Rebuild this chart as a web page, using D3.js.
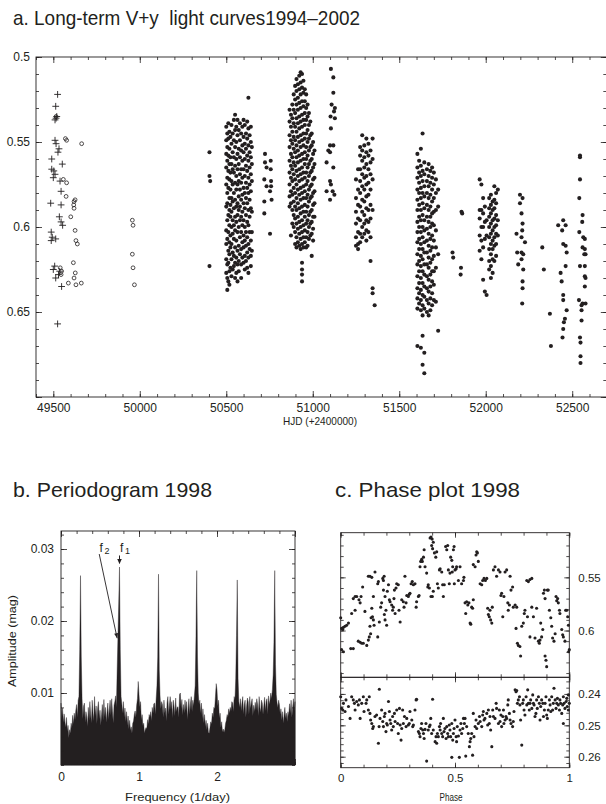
<!DOCTYPE html>
<html>
<head>
<meta charset="utf-8">
<script src="https://cdn.jsdelivr.net/npm/d3@7"></script>
<style>
  body { margin: 0; background: #fff; }
  svg { display: block; }
  text { font-family: "Liberation Sans", Arial, sans-serif; fill: #231f20; }
  .title { font-size: 21px; white-space: pre; }
</style>
</head>
<body>
<svg id="chart" width="606" height="804"></svg>
<script>
// ---------- panel a: long-term V+y light curves ----------
const hjdTicks = [49500, 50000, 50500, 51000, 51500, 52000, 52500];
const hjdLabels = ["49500", "50000", "50500", "51000", "51500", "52000", "52500"];
const magTicksA = [0.5, 0.55, 0.6, 0.65, 0.7];
const magLabelsA = ["0.5", "0.55", "0.6", "0.65", ""];

// 1994/95 season, plotted as crosses  [HJD-2400000, mag]
const crosses1994 = [[49525,.522],[49514,.529],[49516,.536],[49510,.537],[49520,.535],[49510,.549],[49516,.551],
  [49533,.554],[49527,.556],[49491,.560],[49552,.563],[49491,.566],[49503,.567],[49510,.569],[49500,.571],
  [49539,.573],[49545,.579],[49485,.586],[49545,.587],[49535,.594],[49545,.597],[49554,.599],[49488,.603],
  [49494,.606],[49514,.607],[49488,.608],[49508,.623],[49500,.625],[49537,.626],[49530,.628],[49514,.630],
  [49548,.635],[49525,.657]];

// 1994/95 season, second instrument, open circles
const circles1995 = [[49516,.535],[49570,.548],[49577,.549],[49664,.551],[49558,.572],[49577,.574],[49574,.582],
  [49620,.585],[49626,.584],[49618,.587],[49620,.589],[49601,.594],[49626,.602],[49631,.608],[49639,.610],
  [49616,.621],[49627,.627],[49620,.630],[49587,.633],[49631,.634],[49662,.633],[49540,.624],[49548,.626],
  [49545,.628],[49957,.596],[49961,.599],[49957,.616],[49961,.624],[49969,.634]];

// filled dots, 1996-2002; dense seasons stored as [night, [mags]]
const season1996 = [[50403,.556],[50403,.570],[50407,.573],[50403,.623]];
const season1997 = [
  [50500,[.541,.549,.557,.565,.575,.588,.602,.610,.619,.627]],
  [50506,[.545,.553,.561,.571,.580,.586,.596,.607,.622,.630,.637]],
  [50512,[.539,.548,.558,.567,.577,.593,.603,.614,.621,.632]],
  [50518,[.544,.554,.563,.572,.583,.590,.599,.609,.616,.626,.634]],
  [50524,[.547,.559,.568,.578,.587,.594,.605,.612,.624]],
  [50530,[.540,.551,.563,.573,.583,.591,.600,.610,.619,.629]],
  [50537,[.545,.556,.566,.575,.585,.596,.604,.615,.625]],
  [50544,[.537,.549,.559,.568,.580,.589,.599,.607,.617,.623]],
  [50551,[.534,.543,.553,.564,.574,.584,.594,.602,.612,.621,.630]],
  [50558,[.541,.550,.560,.570,.578,.588,.597,.608,.618,.627]],
  [50565,[.537,.546,.557,.566,.575,.586,.593,.603,.614,.622,.632]],
  [50572,[.543,.554,.563,.573,.582,.590,.600,.611,.620,.626]],
  [50579,[.539,.549,.559,.569,.578,.588,.596,.606,.616]],
  [50586,[.545,.555,.566,.574,.584,.594,.603,.613,.622,.630]],
  [50593,[.541,.552,.561,.571,.581,.591,.599,.609,.618]],
  [50600,[.537,.547,.556,.566,.577,.586,.596,.605,.612,.621]],
  [50607,[.540,.551,.560,.570,.580,.589,.600,.608,.617,.625]],
  [50614,[.545,.554,.564,.574,.583,.593,.603,.611,.620]],
  [50621,[.538,.548,.558,.567,.577,.586,.597,.606,.615,.624]],
  [50628,[.524,.542,.552,.561,.571,.580,.590,.599,.610,.618,.627]],
  [50635,[.546,.556,.565,.575,.584,.594,.603,.613]],
  [50642,[.541,.550,.559,.569,.579,.589,.608,.617,.623]],
  [50648,[.553,.563,.573,.591,.603,.614]]];
const season1997b = [[50724,.557],[50757,.561],[50724,.562],[50733,.565],[50757,.566],[50720,.572],[50759,.573],
  [50733,.576],[50759,.576],[50753,.579],[50720,.585],[50762,.584],[50720,.592],[50753,.604]];
const season1998 = [
  [50866,[.531,.538,.546,.553,.561,.568,.575,.582,.588]],
  [50874,[.534,.541,.549,.557,.564,.571,.579,.586,.605]],
  [50882,[.528,.536,.544,.551,.559,.566,.573,.581,.590,.598]],
  [50890,[.522,.531,.539,.547,.554,.562,.569,.577,.585,.593,.600]],
  [50898,[.517,.525,.533,.541,.549,.556,.564,.572,.580,.588,.595,.603,.610]],
  [50906,[.513,.520,.528,.536,.544,.552,.559,.567,.575,.583,.590,.598,.606,.612]],
  [50914,[.516,.524,.531,.539,.547,.555,.562,.570,.578,.586,.594,.601,.609]],
  [50922,[.511,.519,.527,.535,.542,.550,.558,.566,.573,.581,.589,.597,.604,.611]],
  [50930,[.509,.515,.522,.530,.538,.546,.553,.561,.569,.577,.584,.592,.600,.607,.613]],
  [50938,[.510,.518,.526,.534,.541,.549,.557,.565,.572,.580,.588,.596,.603,.610,.621,.625,.628,.632]],
  [50946,[.514,.521,.529,.537,.545,.552,.560,.568,.576,.583,.591,.599,.606,.612]],
  [50954,[.519,.526,.533,.540,.548,.556,.563,.571,.579,.587,.594,.602,.609]],
  [50962,[.522,.530,.537,.545,.553,.560,.568,.575,.583,.591,.598,.606,.612]],
  [50970,[.528,.535,.543,.550,.558,.565,.573,.581,.588,.596,.603,.611]],
  [50978,[.533,.540,.548,.555,.563,.570,.578,.585,.593,.600,.607]],
  [50986,[.538,.546,.553,.561,.568,.576,.583,.591,.598,.605]],
  [50994,[.545,.552,.560,.567,.575,.582,.590,.597,.604,.617]],
  [51002,[.550,.557,.565,.572,.580,.587,.594,.601,.608]],
  [51010,[.555,.563,.571,.579,.586,.594]]];
const season1998b = [[51105,.507],[51119,.512],[51119,.521],[51109,.528],[51128,.530],[51123,.532],[51103,.535],
  [51128,.536],[51105,.542],[51100,.552],[51119,.552],[51090,.555],[51100,.556],[51080,.562],[51119,.565],
  [51100,.573],[51105,.575],[51080,.579],[51125,.581],[51115,.579],[51100,.584]];
const season1999 = [
  [51250,[.572,.583,.591,.598,.606,.611]],
  [51262,[.566,.578,.587,.595,.603,.610,.613]],
  [51274,[.553,.558,.566,.573,.580,.588,.596,.604,.609]],
  [51286,[.546,.555,.561,.569,.576,.584,.591,.600,.606]],
  [51298,[.552,.559,.565,.571,.578,.585,.593,.598,.604]],
  [51310,[.548,.556,.563,.570,.575,.582,.589,.596,.602,.608]],
  [51322,[.551,.558,.566,.574,.581,.590,.597,.603]],
  [51334,[.555,.562,.569,.578,.587,.595,.606,.620]],
  [51346,[.548,.560,.572,.590,.636,.639]],
  [51358,[.646]]];
const season2000 = [
  [51605,[.557,.565,.571,.578,.584,.590,.597,.603,.609,.616,.622,.629,.636,.642,.648,.670]],
  [51615,[.561,.568,.574,.580,.587,.594,.600,.607,.613,.620,.626,.633,.639,.645]],
  [51625,[.554,.564,.570,.577,.583,.590,.596,.603,.610,.617,.623,.630,.637,.643,.649,.671]],
  [51635,[.545,.567,.573,.580,.586,.593,.600,.606,.613,.619,.626,.633,.640,.646,.652,.664,.681]],
  [51645,[.562,.569,.576,.582,.589,.596,.602,.609,.615,.622,.628,.635,.641,.648,.674,.686]],
  [51660,[.566,.573,.580,.587,.594,.601,.608,.615,.622,.629,.636,.643,.650]],
  [51670,[.563,.570,.576,.583,.590,.597,.604,.611,.618,.624,.631,.638,.645,.652]],
  [51680,[.567,.574,.581,.588,.594,.600,.607,.614,.621,.628,.635,.642,.649]],
  [51690,[.565,.571,.578,.585,.592,.598,.605,.612,.619,.626,.632,.639,.646]],
  [51700,[.568,.575,.583,.591,.599,.608,.617,.626,.634,.643]],
  [51712,[.572,.580,.590,.602,.612,.624,.644]],
  [51725,[.578,.588,.616,.661]]];
const season2000b = [[51808,.615],[51812,.618],[51860,.591],[51864,.592],[51857,.624],[51855,.628]];
const season2001 = [
  [51965,[.572,.590,.595,.605,.614]],
  [51975,[.575,.590,.600,.608,.619]],
  [51985,[.583,.592,.600,.612,.631]],
  [51995,[.588,.597,.607,.638]],
  [52005,[.596,.605,.640]],
  [52020,[.583,.589,.594,.600,.606,.613,.620,.625]],
  [52030,[.581,.587,.592,.598,.604,.610,.616,.623,.630]],
  [52040,[.585,.590,.596,.602,.608,.613,.619,.627]],
  [52050,[.576,.584,.589,.595,.600,.606,.611,.620]],
  [52060,[.580,.586,.593,.599,.604,.610,.617]],
  [52070,[.578,.596,.605]]];
const season2001b = [[52198,.581],[52213,.583],[52198,.586],[52207,.592],[52213,.598],[52211,.602],[52178,.604],
  [52207,.606],[52227,.609],[52182,.615],[52207,.615],[52217,.616],[52207,.619],[52188,.622],[52217,.625],
  [52213,.632],[52213,.636],[52211,.645]];
const season2002a = [[52327,.612],[52336,.625],[52371,.651],[52377,.670]];
const season2002b = [[52419,.599],[52448,.596],[52462,.599],[52442,.602],[52448,.610],[52462,.611],[52468,.615],
  [52462,.623],[52433,.627],[52439,.632],[52448,.640],[52448,.643],[52468,.649],[52458,.654],[52452,.656],
  [52448,.660],[52444,.665]];
const season2002c = [[52545,.558],[52545,.559],[52545,.572],[52541,.583],[52560,.593],[52558,.597],[52541,.603],
  [52564,.606],[52573,.607],[52560,.612],[52573,.613],[52577,.616],[52570,.616],[52545,.623],[52573,.623],
  [52573,.629],[52577,.630],[52573,.635],[52539,.643],[52560,.645],[52554,.646],[52577,.645],[52554,.649],
  [52554,.655],[52545,.665],[52548,.668],[52548,.676],[52548,.680]];

// ---------- panel b: periodogram 1998 ----------
const freqTicks = [0, 1, 2, 3];
const freqLabels = ["0", "1", "2", ""];
const ampTicks = [0.01, 0.02, 0.03];
const ampLabels = ["0.01", "0.02", "0.03"];
// amplitude in units of 1e-4 mag, one value per 0.01 c/d from 0 to 3
const ampE4 = [
  86,64,79,58,71,60,52,66,47,55, 38,49,44,58,51,69,57,72,63,76, 84,66,90,95,160,263,150,92,64,82,
  86,59,74,67,53,80,62,88,70,58, 90,73,61,95,68,82,57,79,88,64, 76,55,70,84,62,91,67,80,59,73,
  86,63,78,90,69,92,74,58,83,88, 96,80,132,178,225,275,160,95,85,72, 88,66,79,60,74,55,68,50,62,48,
  53,44,58,61,70,75,66,83,92,116, 98,81,88,62,70,55,58,44,49,52, 50,63,57,70,66,74,61,80,72,85,
  86,70,92,110,150,265,132,96,78,88, 84,66,90,72,79,61,86,95,70,83, 95,77,88,65,90,81,68,93,74,80,
  81,66,98,100,78,91,69,84,72,90, 76,88,63,80,92,70,86,95,74,90, 82,96,110,175,270,150,100,84,90,72,
  86,64,78,58,70,53,62,49,58,45, 44,52,60,57,72,66,80,78,95,113, 104,82,90,65,72,52,60,46,50,45,
  49,58,62,70,66,78,72,80,75,88, 86,74,95,90,120,180,257,120,88,80, 92,75,86,95,70,84,90,66,82,93,
  88,70,95,78,86,92,68,83,74,87, 76,92,84,68,95,80,73,90,86,70, 82,94,75,88,92,70,96,84,90,100,
  92,105,125,170,270,140,98,86,80,90, 84,70,78,62,74,58,69,80,65,72, 60,74,68,85,72,90,66,80,92,75,
  88];

// ---------- panel c: phase plot 1998 ----------
const phaseTicks = [0, 0.5, 1];
const phaseLabels = ["0", "0.5", "1"];
const magTicksC = [0.55, 0.6];
const magLabelsC = ["0.55", "0.6"];
const colTicksC = [0.24, 0.25, 0.26];
const colLabelsC = ["0.24", "0.25", "0.26"];
// [phase, V+y mag]
const phaseMag = [[0,.588],[.004,.598],[.009,.599],[.012,.597],[.019,.596],[.026,.595],[.034,.593],[.004,.618],
  [.012,.620],[.044,.617],[.055,.617],[.048,.584],[.063,.581],[.055,.570],[.063,.568],[.070,.568],[.080,.571],
  [.085,.574],[.089,.568],[.077,.610],[.085,.611],[.092,.612],[.099,.612],[.096,.559],[.106,.582],
  [.114,.614],[.121,.609],[.125,.606],[.131,.603],[.128,.596],[.133,.588],[.139,.587],[.143,.590],[.146,.595],
  [.143,.568],[.136,.579],[.121,.549],[.128,.549],[.136,.550],[.150,.545],[.162,.556],[.165,.554],[.162,.606],
  [.169,.592],[.175,.578],[.179,.574],[.187,.553],[.184,.551],[.190,.549],[.187,.562],[.194,.568],[.198,.581],
  [.194,.590],[.201,.595],[.191,.585],
  [.204,.563],[.209,.557],[.213,.571],[.216,.573],[.223,.576],[.227,.581],[.230,.578],[.233,.570],[.235,.562],
  [.242,.560],[.245,.556],[.252,.557],[.238,.584],[.255,.581],[.260,.592],[.267,.571],[.274,.573],[.281,.549],
  [.277,.578],[.286,.574],[.289,.567],[.296,.568],[.300,.566],[.303,.565],
  [.308,.556],[.313,.554],[.318,.557],[.325,.556],[.330,.578],[.332,.573],[.340,.568],[.343,.567],[.347,.540],
  [.350,.535],[.354,.533],[.357,.535],[.362,.531],[.365,.524],[.369,.540],[.376,.546],[.381,.559],[.383,.557],
  [.388,.560],[.391,.513],[.395,.512],[.400,.514],[.405,.517],[.398,.520],[.402,.523],[.395,.568],[.401,.568],
  [.405,.563],
  [.410,.527],[.416,.531],[.420,.526],[.423,.556],[.427,.560],[.432,.543],[.435,.542],[.442,.545],[.446,.557],
  [.449,.568],[.453,.557],[.459,.521],[.464,.524],[.468,.520],[.471,.543],[.475,.556],[.478,.546],[.481,.531],
  [.486,.534],[.488,.545],[.490,.540],[.493,.524],[.496,.521],[.500,.543],[.497,.556],
  [.505,.542],[.507,.540],[.515,.553],[.522,.540],[.529,.556],[.537,.553],[.539,.550],[.544,.574],[.547,.584],
  [.551,.573],[.556,.576],[.561,.574],[.566,.593],[.569,.594],[.573,.578],[.577,.579],[.580,.571],[.580,.538],
  [.588,.540],[.592,.529],[.595,.526],[.598,.527],[.602,.535],
  [.610,.556],[.617,.557],[.621,.553],[.627,.551],[.633,.553],[.639,.551],[.643,.579],[.646,.585],[.650,.587],
  [.653,.581],[.656,.590],[.661,.593],[.663,.578],[.668,.543],[.675,.540],[.682,.549],[.690,.543],[.697,.545],
  [.701,.567],[.704,.565],
  [.709,.587],[.714,.568],[.719,.545],[.726,.543],[.731,.574],[.733,.581],[.738,.576],[.741,.549],[.745,.562],
  [.752,.559],[.755,.578],[.763,.576],[.770,.578],[.767,.598],[.773,.612],[.777,.614],[.784,.615],[.787,.624],
  [.792,.596],[.799,.593],[.803,.584],[.806,.581],
  [.814,.553],[.821,.554],[.828,.552],[.836,.551],[.817,.587],[.828,.606],[.836,.578],[.843,.587],[.850,.607],
  [.857,.579],[.865,.610],[.869,.612],[.872,.609],[.875,.593],[.879,.606],[.884,.599],[.887,.565],[.891,.562],
  [.894,.570],[.894,.624],[.898,.628],[.901,.634],
  [.904,.562],[.908,.562],[.913,.581],[.919,.588],[.923,.596],[.927,.607],[.933,.610],[.938,.603],[.942,.568],
  [.945,.572],[.949,.570],[.952,.574],[.957,.581],[.959,.584],[.967,.599],[.971,.604],[.974,.606],[.981,.610],
  [.984,.581],[.989,.581],[.993,.587],[.996,.595],[1,.618],[.997,.620]];
// [phase, colour index]
const phaseCol = [[0,.2409],[.004,.2446],[.009,.2451],[.012,.2430],[.019,.2456],[.023,.2419],[.034,.2440],
  [.041,.2478],[.048,.2409],[.055,.2419],[.060,.2430],[.063,.2451],[.070,.2424],[.077,.2435],[.082,.2419],
  [.085,.2478],[.092,.2430],[.099,.2409],[.102,.2456],[.111,.2430],
  [.114,.2419],[.121,.2451],[.125,.2409],[.128,.2462],[.131,.2483],[.136,.2494],[.140,.2510],[.143,.2504],
  [.150,.2472],[.157,.2467],[.165,.2557],[.168,.2504],[.169,.2385],[.172,.2478],[.179,.2451],[.184,.2488],
  [.187,.2504],[.191,.2472],[.194,.2462],[.198,.2520],[.201,.2494],[.204,.2499],
  [.209,.2424],[.213,.2456],[.216,.2483],[.219,.2494],[.223,.2515],[.227,.2472],[.230,.2504],[.235,.2462],
  [.238,.2488],[.245,.2451],[.249,.2494],[.252,.2526],[.257,.2446],[.260,.2499],[.264,.2547],[.267,.2510],
  [.271,.2451],[.274,.2494],[.279,.2472],[.286,.2504],[.289,.2478],[.296,.2499],[.300,.2494],
  [.303,.2456],[.311,.2483],[.315,.2504],[.318,.2499],[.325,.2451],[.330,.2419],[.332,.2417],[.340,.2520],
  [.344,.2526],[.347,.2536],[.351,.2510],[.354,.2494],[.359,.2515],[.362,.2526],[.365,.2542],[.369,.2513],
  [.373,.2494],[.376,.2614],[.383,.2515],[.388,.2504],[.391,.2499],[.394,.2478],[.398,.2526],[.402,.2417],
  [.405,.2515],[.413,.2552],[.417,.2536],[.420,.2557],[.423,.2526],[.427,.2536],[.432,.2504],[.435,.2515],
  [.437,.2494],[.442,.2526],[.446,.2536],[.449,.2478],[.452,.2520],[.456,.2510],[.461,.2542],[.464,.2504],
  [.468,.2526],[.471,.2536],[.475,.2499],[.478,.2515],[.481,.2536],[.486,.2494],[.490,.2547],[.493,.2526],
  [.496,.2510],[.500,.2483],[.486,.2602],
  [.505,.2536],[.507,.2552],[.510,.2504],[.515,.2534],[.519,.2602],[.522,.2515],[.526,.2494],[.529,.2526],
  [.534,.2510],[.537,.2478],[.541,.2494],[.544,.2478],[.547,.2598],[.551,.2504],[.558,.2526],[.563,.2568],
  [.566,.2552],[.569,.2542],[.573,.2526],[.577,.2595],[.580,.2462],[.583,.2536],[.588,.2504],[.592,.2483],
  [.595,.2510],[.602,.2494],[.607,.2472],[.610,.2488],[.617,.2504],[.621,.2467],[.624,.2456],[.627,.2483],
  [.631,.2478],[.639,.2462],[.643,.2499],[.646,.2451],[.650,.2494],[.653,.2472],[.656,.2515],[.661,.2568],
  [.665,.2451],[.668,.2472],[.675,.2478],[.680,.2430],[.682,.2446],[.690,.2494],[.694,.2451],[.697,.2488],
  [.701,.2467],
  [.704,.2504],[.709,.2472],[.712,.2451],[.714,.2494],[.719,.2483],[.723,.2472],[.726,.2478],[.731,.2435],
  [.733,.2419],[.738,.2462],[.741,.2483],[.745,.2494],[.752,.2504],[.755,.2488],[.758,.2456],[.763,.2387],
  [.767,.2393],[.770,.2389],[.773,.2430],[.777,.2419],[.782,.2409],[.784,.2435],[.787,.2483],[.792,.2563],
  [.796,.2430],[.799,.2419],[.802,.2451],[.806,.2467],
  [.811,.2409],[.814,.2435],[.818,.2387],[.821,.2430],[.825,.2451],[.828,.2430],[.831,.2419],[.836,.2446],
  [.840,.2403],[.843,.2430],[.846,.2435],[.850,.2472],[.854,.2462],[.857,.2419],[.860,.2446],[.865,.2409],
  [.869,.2430],[.872,.2483],[.875,.2440],[.879,.2419],[.884,.2430],[.887,.2472],[.891,.2451],[.894,.2430],
  [.898,.2409],[.901,.2467],[.904,.2478],[.908,.2451],[.913,.2419],[.916,.2435],[.919,.2456],[.923,.2409],
  [.927,.2451],[.930,.2430],[.933,.2382],[.938,.2419],[.942,.2446],[.945,.2430],[.948,.2414],[.952,.2435],
  [.957,.2451],[.959,.2419],[.962,.2430],[.967,.2462],[.971,.2435],[.974,.2409],[.977,.2430],[.981,.2446],
  [.986,.2424],[.989,.2414],[.991,.2440],[.996,.2451],[1,.2430],[.996,.2403],[.974,.2494]];

// ---------- drawing ----------
const ink = "#231f20";
const svg = d3.select("#chart");

const flat = cols => cols.flatMap(([t, ms]) => ms.map(m => [t, m]));

// inward-pointing tick set built from a d3 axis, domain line removed
function ticks(g, gen, scale, at, values, size, labels, pad, fontSize) {
  const vertical = gen === d3.axisLeft || gen === d3.axisRight;
  const axis = gen(scale).tickValues(values).tickSize(-size).tickPadding(pad || 3)
    .tickFormat((d, i) => labels ? (labels[i] || "") : "");
  const s = g.append("g")
    .attr("transform", vertical ? `translate(${at},0)` : `translate(0,${at})`)
    .call(axis);
  s.select(".domain").remove();
  s.attr("font-family", null).attr("font-size", null);
  s.selectAll("line").attr("stroke", ink).attr("stroke-width", 0.8);
  s.selectAll("text").attr("fill", ink).style("font-size", (fontSize || 12) + "px");
  return s;
}

function box(g, x, y) {
  const [x0, x1] = x.range(), [y0, y1] = y.range();
  g.append("rect")
    .attr("x", x0).attr("y", Math.min(y0, y1))
    .attr("width", x1 - x0).attr("height", Math.abs(y1 - y0))
    .attr("fill", "none").attr("stroke", ink).attr("stroke-width", 0.9);
}

// titles
svg.append("text").attr("class", "title").attr("x", 13).attr("y", 25)
  .attr("textLength", 347).attr("lengthAdjust", "spacingAndGlyphs")
  .text("a. Long-term V+y  light curves1994\u20132002");
svg.append("text").attr("class", "title").attr("x", 13).attr("y", 497)
  .attr("textLength", 199).attr("lengthAdjust", "spacingAndGlyphs")
  .text("b. Periodogram 1998");
svg.append("text").attr("class", "title").attr("x", 335).attr("y", 497)
  .attr("textLength", 185).attr("lengthAdjust", "spacingAndGlyphs")
  .text("c. Phase plot 1998");

// ----- panel a -----
const ax = d3.scaleLinear([49400, 52700], [36, 606.8]);
const ay = d3.scaleLinear([0.5, 0.7], [57, 397]);
const ga = svg.append("g");

const dotsA = [].concat(season1996, flat(season1997), season1997b, flat(season1998), season1998b,
  flat(season1999), flat(season2000), season2000b, flat(season2001), season2001b,
  season2002a, season2002b, season2002c);

ga.append("g").selectAll("circle").data(dotsA).join("circle")
  .attr("cx", d => ax(d[0])).attr("cy", d => ay(d[1])).attr("r", 2.05).attr("fill", ink);
ga.append("g").selectAll("circle").data(circles1995).join("circle")
  .attr("cx", d => ax(d[0])).attr("cy", d => ay(d[1])).attr("r", 1.9)
  .attr("fill", "none").attr("stroke", ink).attr("stroke-width", 0.8);
ga.append("g").selectAll("path").data(crosses1994).join("path")
  .attr("transform", d => `translate(${ax(d[0])},${ay(d[1])})`)
  .attr("d", "M-3.4,0H3.4M0,-3.4V3.4").attr("stroke", ink).attr("stroke-width", 0.9);

box(ga, ax, ay);
const hjdMinor = d3.range(49400, 52701, 100);
const magMinorA = d3.range(0.5, 0.7001, 0.01);
ticks(ga, d3.axisBottom, ax, 397, hjdMinor, 3);
ticks(ga, d3.axisBottom, ax, 397, hjdTicks, 6, hjdLabels, 6, 12);
ticks(ga, d3.axisTop, ax, 57, hjdMinor, 3);
ticks(ga, d3.axisTop, ax, 57, hjdTicks, 6);
ticks(ga, d3.axisLeft, ay, 36, magMinorA, 3);
ticks(ga, d3.axisLeft, ay, 36, magTicksA, 6, magLabelsA, 6, 12);
ticks(ga, d3.axisRight, ay, 606.8, magMinorA, 3.5);
ticks(ga, d3.axisRight, ay, 606.8, magTicksA, 6);
ga.append("text").attr("x", 320).attr("y", 425).attr("text-anchor", "middle")
  .style("font-size", "10.5px").attr("textLength", 74).attr("lengthAdjust", "spacingAndGlyphs")
  .text("HJD (+2400000)");

// ----- panel b -----
const bx = d3.scaleLinear([0, 3], [61, 295]);
const by = d3.scaleLinear([0, 0.0325], [765, 531]);
const gb = svg.append("g");
const spec = ampE4.map((v, i) => [i / 100, v / 1e4]);

gb.append("path").datum(spec)
  .attr("d", d3.area().x(d => bx(d[0])).y0(by(0)).y1(d => by(d[1])))
  .attr("fill", ink).attr("stroke", ink).attr("stroke-width", 0.4);

box(gb, bx, by);
const freqMinor = d3.range(0, 3.001, 0.2);
const ampMinor = d3.range(0, 0.0325, 0.002);
ticks(gb, d3.axisBottom, bx, 765, freqMinor, 3);
ticks(gb, d3.axisBottom, bx, 765, freqTicks, 6, freqLabels, 7, 12);
ticks(gb, d3.axisTop, bx, 531, freqMinor, 3);
ticks(gb, d3.axisTop, bx, 531, freqTicks, 6);
ticks(gb, d3.axisLeft, by, 61, ampMinor, 3);
ticks(gb, d3.axisLeft, by, 61, ampTicks, 6, ampLabels, 7, 12);
ticks(gb, d3.axisRight, by, 295, ampMinor, 3);
ticks(gb, d3.axisRight, by, 295, ampTicks, 6);

// f1 / f2 markers
const f1 = 0.75, f2 = 0.72;
gb.append("line").attr("x1", bx(f1)).attr("x2", bx(f1)).attr("y1", by(0.0291)).attr("y2", by(0.0280))
  .attr("stroke", ink).attr("stroke-width", 1);
gb.append("path").attr("transform", `translate(${bx(f1)},${by(0.0279)})`)
  .attr("d", "M0,0L-2.3,-5L2.3,-5Z").attr("fill", ink);
const f2Start = [bx(0.49), by(0.0293)], f2Tip = [bx(f2), by(0.0176)];
gb.append("line").attr("x1", f2Start[0]).attr("y1", f2Start[1]).attr("x2", f2Tip[0]).attr("y2", f2Tip[1])
  .attr("stroke", ink).attr("stroke-width", 0.9);
const ang = Math.atan2(f2Tip[1] - f2Start[1], f2Tip[0] - f2Start[0]) * 180 / Math.PI;
gb.append("path").attr("transform", `translate(${f2Tip[0]},${f2Tip[1]}) rotate(${ang - 90})`)
  .attr("d", "M0,0L-2,-5L2,-5Z").attr("fill", ink);
gb.append("text").attr("x", bx(0.495)).attr("y", by(0.0296)).style("font-size", "12px").text("f");
gb.append("text").attr("x", bx(0.495) + 5).attr("y", by(0.0296) + 2).style("font-size", "9px").text("2");
gb.append("text").attr("x", bx(0.755)).attr("y", by(0.0296)).style("font-size", "12px").text("f");
gb.append("text").attr("x", bx(0.755) + 5).attr("y", by(0.0296) + 2).style("font-size", "9px").text("1");

gb.append("text").attr("transform", "translate(16,641) rotate(-90)").attr("text-anchor", "middle")
  .style("font-size", "11px").attr("textLength", 92).attr("lengthAdjust", "spacingAndGlyphs")
  .text("Amplitude (mag)");
gb.append("text").attr("x", 177.5).attr("y", 801).attr("text-anchor", "middle")
  .style("font-size", "11px").attr("textLength", 105).attr("lengthAdjust", "spacingAndGlyphs")
  .text("Frequency (1/day)");

// ----- panel c -----
const cx = d3.scaleLinear([0, 1], [340.7, 569.3]);
const cyT = d3.scaleLinear([0.508, 0.644], [532.7, 677.3]);
const cyB = d3.scaleLinear([0.2347, 0.2635], [677.3, 767.7]);
const gc = svg.append("g");

gc.append("g").selectAll("circle").data(phaseMag).join("circle")
  .attr("cx", d => cx(d[0])).attr("cy", d => cyT(d[1])).attr("r", 1.55).attr("fill", ink);
gc.append("g").selectAll("circle").data(phaseCol).join("circle")
  .attr("cx", d => cx(d[0])).attr("cy", d => cyB(d[1])).attr("r", 1.55).attr("fill", ink);

box(gc, cx, cyT);
box(gc, cx, cyB);
const phaseMinor = d3.range(0, 1.001, 0.1);
const magMinorC = d3.range(0.51, 0.6401, 0.01);
const colMinorC = d3.range(0.236, 0.2631, 0.002);
ticks(gc, d3.axisTop, cx, 532.7, phaseMinor, 3);
ticks(gc, d3.axisTop, cx, 532.7, phaseTicks, 5);
ticks(gc, d3.axisBottom, cx, 677.3, phaseMinor, 3);
ticks(gc, d3.axisBottom, cx, 677.3, phaseTicks, 5);
ticks(gc, d3.axisTop, cx, 677.3, phaseMinor, 3);
ticks(gc, d3.axisTop, cx, 677.3, phaseTicks, 5);
ticks(gc, d3.axisBottom, cx, 767.7, phaseMinor, 3);
ticks(gc, d3.axisBottom, cx, 767.7, phaseTicks, 5, phaseLabels, 6, 11.5);
ticks(gc, d3.axisLeft, cyT, 340.7, magMinorC, 3);
ticks(gc, d3.axisLeft, cyT, 340.7, magTicksC, 5);
ticks(gc, d3.axisRight, cyT, 569.3, magMinorC, 3);
ticks(gc, d3.axisRight, cyT, 569.3, magTicksC, 5, magLabelsC, 9, 11.5);
ticks(gc, d3.axisLeft, cyB, 340.7, colMinorC, 3);
ticks(gc, d3.axisLeft, cyB, 340.7, colTicksC, 5);
ticks(gc, d3.axisRight, cyB, 569.3, colMinorC, 3);
ticks(gc, d3.axisRight, cyB, 569.3, colTicksC, 5, colLabelsC, 9, 11.5);
gc.append("text").attr("x", 451).attr("y", 801).attr("text-anchor", "middle")
  .style("font-size", "10px").attr("textLength", 23).attr("lengthAdjust", "spacingAndGlyphs")
  .text("Phase");
</script>
</body>
</html>
